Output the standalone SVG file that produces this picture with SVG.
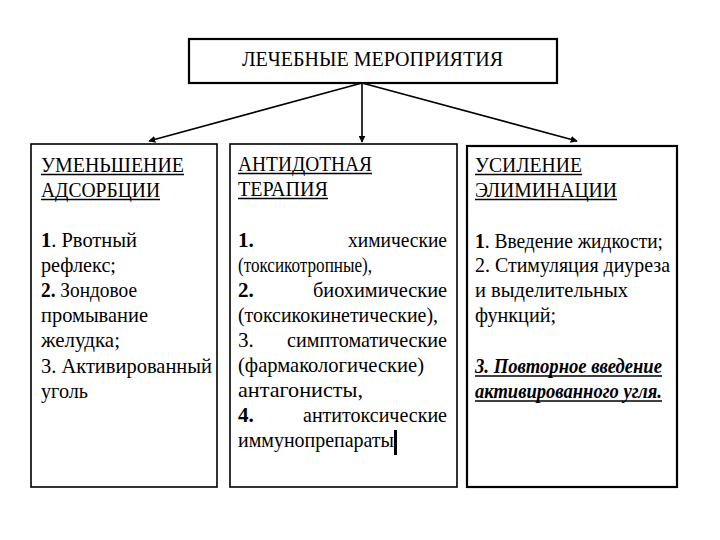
<svg xmlns="http://www.w3.org/2000/svg" width="720" height="540" viewBox="0 0 720 540">
<defs>
<marker id="ah" viewBox="0 0 10 10" refX="9" refY="5" markerWidth="7" markerHeight="7" orient="auto" markerUnits="userSpaceOnUse">
<path d="M0,0 L10,5 L0,10 z" fill="#000"/>
</marker>
<style>
.box{fill:#fff;stroke:#000;stroke-width:1.6}
.thick{stroke-width:2.2}
text{font-family:"Liberation Serif","Times New Roman",Tinos,"Noto Serif","DejaVu Serif",FreeSerif,serif;font-size:21px;fill:#000}
.b{font-weight:bold}
.it{font-style:italic;font-weight:bold}
.ul{stroke:#000;stroke-width:1.5}
.conn{stroke:#000;stroke-width:1.6;fill:none}
</style>
</defs>
<rect width="720" height="540" fill="#fff"/>

<g id="top">
<rect class="box thick" x="189" y="39" width="368" height="44"/>
<text x="242" y="66" textLength="261" lengthAdjust="spacingAndGlyphs">ЛЕЧЕБНЫЕ МЕРОПРИЯТИЯ</text>
</g>

<g id="connectors">
<line class="conn" x1="362" y1="83" x2="149" y2="141" marker-end="url(#ah)"/>
<line class="conn" x1="362" y1="83" x2="362" y2="142" marker-end="url(#ah)"/>
<line class="conn" x1="362" y1="83" x2="577" y2="141" marker-end="url(#ah)"/>
</g>

<g id="left">
<rect class="box" x="31" y="144" width="186" height="343"/>
<text x="41" y="172" textLength="143" lengthAdjust="spacingAndGlyphs">УМЕНЬШЕНИЕ</text>
<line class="ul" x1="41" y1="174.5" x2="184" y2="174.5"/>
<text x="41" y="197" textLength="119" lengthAdjust="spacingAndGlyphs">АДСОРБЦИИ</text>
<line class="ul" x1="41" y1="199.5" x2="160" y2="199.5"/>
<text x="41" y="247" textLength="96" lengthAdjust="spacingAndGlyphs"><tspan class="b">1</tspan>. Рвотный</text>
<text x="41" y="272" textLength="75" lengthAdjust="spacingAndGlyphs">рефлекс;</text>
<text x="41" y="297" textLength="96" lengthAdjust="spacingAndGlyphs"><tspan class="b">2.</tspan> Зондовое</text>
<text x="41" y="322" textLength="107" lengthAdjust="spacingAndGlyphs">промывание</text>
<text x="41" y="347" textLength="79" lengthAdjust="spacingAndGlyphs">желудка;</text>
<text x="41" y="373" textLength="171" lengthAdjust="spacingAndGlyphs">3. Активированный</text>
<text x="41" y="398" textLength="47" lengthAdjust="spacingAndGlyphs">уголь</text>
</g>

<g id="middle">
<rect class="box" x="230" y="144" width="227" height="343"/>
<text x="238" y="171" textLength="134" lengthAdjust="spacingAndGlyphs">АНТИДОТНАЯ</text>
<line class="ul" x1="238" y1="173.5" x2="372" y2="173.5"/>
<text x="238" y="196" textLength="90" lengthAdjust="spacingAndGlyphs">ТЕРАПИЯ</text>
<line class="ul" x1="238" y1="198.5" x2="328" y2="198.5"/>
<text class="b" x="238" y="247">1.</text>
<text x="348" y="247" textLength="99" lengthAdjust="spacingAndGlyphs">химические</text>
<text x="238" y="272" textLength="134" lengthAdjust="spacingAndGlyphs">(токсикотропные),</text>
<text class="b" x="238" y="297">2.</text>
<text x="313" y="297" textLength="134" lengthAdjust="spacingAndGlyphs">биохимические</text>
<text x="238" y="322" textLength="200" lengthAdjust="spacingAndGlyphs">(токсикокинетические),</text>
<text x="238" y="347">3.</text>
<text x="287" y="347" textLength="160" lengthAdjust="spacingAndGlyphs">симптоматические</text>
<text x="238" y="372" textLength="186" lengthAdjust="spacingAndGlyphs">(фармакологические)</text>
<text x="238" y="397" textLength="125" lengthAdjust="spacingAndGlyphs">антагонисты,</text>
<text class="b" x="238" y="422">4.</text>
<text x="303" y="422" textLength="144" lengthAdjust="spacingAndGlyphs">антитоксические</text>
<text x="238" y="447" textLength="156" lengthAdjust="spacingAndGlyphs">иммунопрепараты</text>
<rect x="394" y="430" width="3" height="25" fill="#000"/>
</g>

<g id="right">
<rect class="box thick" x="467" y="146" width="210" height="341"/>
<text x="475" y="172" textLength="107" lengthAdjust="spacingAndGlyphs">УСИЛЕНИЕ</text>
<line class="ul" x1="475" y1="174.5" x2="582" y2="174.5"/>
<text x="475" y="197" textLength="142" lengthAdjust="spacingAndGlyphs">ЭЛИМИНАЦИИ</text>
<line class="ul" x1="475" y1="199.5" x2="617" y2="199.5"/>
<text x="475" y="248" textLength="188" lengthAdjust="spacingAndGlyphs"><tspan class="b">1</tspan>. Введение жидкости;</text>
<text x="475" y="272" textLength="195" lengthAdjust="spacingAndGlyphs">2. Стимуляция диуреза</text>
<text x="475" y="297" textLength="153" lengthAdjust="spacingAndGlyphs">и выделительных</text>
<text x="475" y="322" textLength="81" lengthAdjust="spacingAndGlyphs">функций;</text>
<text class="it" x="475" y="373" textLength="187" lengthAdjust="spacingAndGlyphs">3. Повторное введение</text>
<line class="ul" x1="475" y1="376" x2="662" y2="376"/>
<text class="it" x="475" y="398" textLength="187" lengthAdjust="spacingAndGlyphs">активированного угля.</text>
<line class="ul" x1="475" y1="401" x2="662" y2="401"/>
</g>
</svg>
